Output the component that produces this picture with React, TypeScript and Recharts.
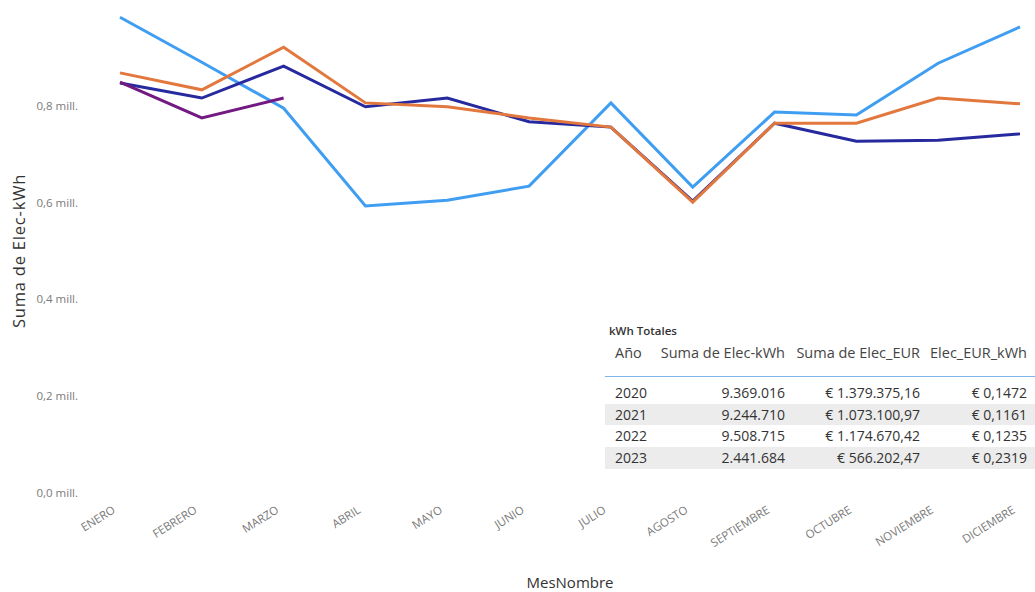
import React from "react";
import { LineChart, Line, XAxis, YAxis } from "recharts";

const months = ["ENERO", "FEBRERO", "MARZO", "ABRIL", "MAYO", "JUNIO", "JULIO", "AGOSTO", "SEPTIEMBRE", "OCTUBRE", "NOVIEMBRE", "DICIEMBRE"];
const kwh2020 = [983000, 890000, 795000, 593000, 605000, 634000, 806000, 632000, 787000, 781000, 888000, 963000];
const kwh2021 = [847000, 816000, 882000, 798000, 816000, 767000, 756000, 603000, 764000, 727000, 729000, 742000];
const kwh2022 = [868000, 833000, 921000, 806000, 798000, 775000, 756000, 601000, 764000, 764000, 816000, 804000];
const kwh2023 = [849000, 775000, 816000];
const yTicks = [0, 200000, 400000, 600000, 800000];

const tableTitle = "kWh Totales";
const tableHeaders = ["Año", "Suma de Elec-kWh", "Suma de Elec_EUR", "Elec_EUR_kWh"];
const tableYears = ["2020", "2021", "2022", "2023"];
const tableKwh = ["9.369.016", "9.244.710", "9.508.715", "2.441.684"];
const tableEur = ["€ 1.379.375,16", "€ 1.073.100,97", "€ 1.174.670,42", "€ 566.202,47"];
const tableEurKwh = ["€ 0,1472", "€ 0,1161", "€ 0,1235", "€ 0,2319"];

const data = months.map((m, i) => ({
  mes: m,
  y2020: kwh2020[i],
  y2021: kwh2021[i],
  y2022: kwh2022[i],
  y2023: i < kwh2023.length ? kwh2023[i] : null,
}));

const FONT = "'Open Sans', 'Noto Sans', sans-serif";

const fmtY = (v: number) => (v / 1e6).toFixed(1).replace(".", ",") + " mill.";

const XTick = (props: any) => {
  const { x, y, payload } = props;
  const tx = x - 4;
  const ty = y + 11;
  return (
    <text x={tx} y={ty} transform={`rotate(-32, ${tx}, ${ty})`} textAnchor="end" fill="#7a7a7a" fontSize={11.5} fontFamily={FONT}>
      {payload.value}
    </text>
  );
};

const colW = [40, 140, 135, 107];

export default function App() {
  return (
    <div style={{ position: "absolute", left: 0, top: 0, width: 1035, height: 592, background: "#fff", overflow: "hidden" }}>
      <LineChart width={1035} height={592} data={data} margin={{ top: 9, right: 15, bottom: 0, left: 0 }}>
        <XAxis
          dataKey="mes"
          axisLine={false}
          tickLine={false}
          height={99}
          interval={0}
          tick={<XTick />}
          label={{ value: "MesNombre", position: "insideBottom", offset: 4, fill: "#333", fontSize: 15, fontFamily: FONT }}
        />
        <YAxis
          width={120}
          domain={[0, 1000000]}
          ticks={yTicks}
          axisLine={false}
          tickLine={false}
          tickMargin={36}
          tickFormatter={fmtY}
          tick={{ fill: "#7a7a7a", fontSize: 11.5, fontFamily: FONT }}
          label={{ value: "Suma de Elec-kWh", angle: -90, position: "insideLeft", offset: 19, fill: "#333", fontSize: 16.5, fontFamily: FONT, letterSpacing: 0.8, style: { textAnchor: "middle" } }}
        />
        <Line type="linear" dataKey="y2020" stroke="#3f9ef2" strokeWidth={3} dot={false} isAnimationActive={false} />
        <Line type="linear" dataKey="y2021" stroke="#27299e" strokeWidth={3} dot={false} isAnimationActive={false} />
        <Line type="linear" dataKey="y2022" stroke="#e2783d" strokeWidth={3} dot={false} isAnimationActive={false} />
        <Line type="linear" dataKey="y2023" stroke="#721a82" strokeWidth={3} dot={false} isAnimationActive={false} connectNulls={false} />
      </LineChart>
      <div style={{ position: "absolute", left: 605, top: 320, width: 430, fontFamily: FONT, color: "#333" }}>
        <div style={{ fontSize: 11.5, paddingLeft: 4, height: 22, lineHeight: "22px", color: "#333", fontWeight: 600 }}>{tableTitle}</div>
        <div style={{ display: "flex", fontSize: 14.5, height: 35, lineHeight: "22px", borderBottom: "1.5px solid #7fb6ea", color: "#444", boxSizing: "border-box" }}>
          {tableHeaders.map((h, i) => (
            <div key={h} style={{ width: colW[i], flex: "none", paddingLeft: i === 0 ? 10 : 0, textAlign: i === 0 ? "left" : "right", whiteSpace: "nowrap", boxSizing: "border-box" }}>
              {h}
            </div>
          ))}
        </div>
        <div style={{ height: 5 }} />
        {tableYears.map((yr, r) => (
          <div key={yr} style={{ display: "flex", fontSize: 14, height: 21.7, lineHeight: "21.7px", background: r % 2 === 1 ? "#ececec" : "transparent", color: "#333" }}>
            {[yr, tableKwh[r], tableEur[r], tableEurKwh[r]].map((v, i) => (
              <div key={i} style={{ width: colW[i], flex: "none", paddingLeft: i === 0 ? 10 : 0, textAlign: i === 0 ? "left" : "right", whiteSpace: "nowrap", boxSizing: "border-box" }}>
                {v}
              </div>
            ))}
          </div>
        ))}
      </div>
    </div>
  );
}
